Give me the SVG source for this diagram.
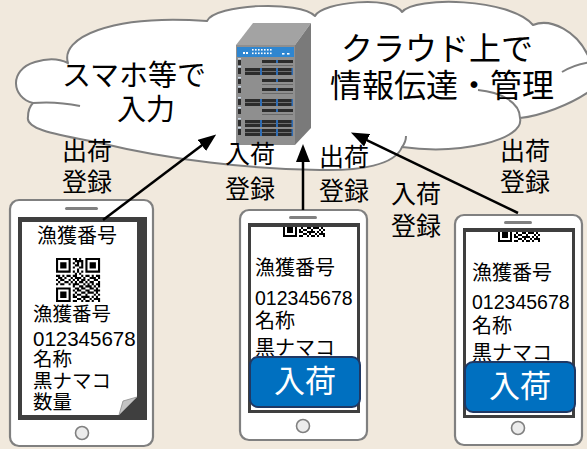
<svg xmlns="http://www.w3.org/2000/svg" width="587" height="449" viewBox="0 0 587 449">
<style>
.jp{font-family:"Noto Sans CJK JP","Noto Sans CJK SC",sans-serif;fill:#000}
.num{font-family:"Liberation Sans","DejaVu Sans",sans-serif;fill:#000}
.lbl{font-size:25px;text-anchor:middle}
.cloud{fill:#fff;stroke:#7f7f7f;stroke-width:2;stroke-linejoin:round}
.edge{fill:none;stroke:#7f7f7f;stroke-width:2}
.body{fill:#fff;stroke:#808080;stroke-width:2.2}
.spk{fill:#808080}
.home{fill:#ececec;stroke:#808080;stroke-width:1.6}
.screen{fill:#3f3f3f}
.paper{fill:#fff}
.btn{fill:#0070c0;stroke:#1f3864;stroke-width:2}
.btxt{font-size:31px;fill:#fff;text-anchor:middle}
.arrow{fill:none;stroke:#000;stroke-width:2.5;marker-end:url(#ah)}
.slot{fill:#2c2c2c}
.blue{fill:#2f6db5}
.port{fill:#c8d6e5}
</style>
<defs>
  <marker id="ah" markerUnits="userSpaceOnUse" markerWidth="18" markerHeight="14" viewBox="0 0 18 14" refX="1" refY="7" orient="auto">
    <path d="M0,0L18,7L0,14z" fill="#000"/>
  </marker>
  <!-- QR code, 21x21 modules -->
  <g id="qr">
    <path fill="#000" fill-rule="evenodd" d="M0 0h7v7h-7zM1 1v5h5v-5zM2 2h3v3h-3z M14 0h7v7h-7zM15 1v5h5v-5zM16 2h3v3h-3z M0 14h7v7h-7zM1 15v5h5v-5zM2 16h3v3h-3z"/>
    <path fill="#000" d="M8 0h2v1h-2zM11 0h1v1h-1zM9 1h4v1h-4zM8 2h1v1h-1zM10 2h1v1h-1zM12 2h1v1h-1zM9 3h2v1h-2zM12 3h1v1h-1zM8 4h1v1h-1zM11 4h2v1h-2zM10 5h1v1h-1zM8 6h1v1h-1zM10 6h1v1h-1zM12 6h1v1h-1zM9 7h1v1h-1zM11 7h1v1h-1zM0 8h2v1h-2zM3 8h1v1h-1zM5 8h2v1h-2zM8 8h2v1h-2zM12 8h1v1h-1zM14 8h2v1h-2zM17 8h1v1h-1zM19 8h2v1h-2zM1 9h2v1h-2zM4 9h1v1h-1zM7 9h1v1h-1zM9 9h3v1h-3zM13 9h1v1h-1zM16 9h3v1h-3zM20 9h1v1h-1zM0 10h1v1h-1zM2 10h2v1h-2zM6 10h1v1h-1zM8 10h1v1h-1zM10 10h1v1h-1zM12 10h2v1h-2zM15 10h1v1h-1zM18 10h2v1h-2zM1 11h1v1h-1zM4 11h2v1h-2zM7 11h1v1h-1zM9 11h1v1h-1zM11 11h2v1h-2zM14 11h1v1h-1zM16 11h2v1h-2zM20 11h1v1h-1zM0 12h1v1h-1zM2 12h2v1h-2zM6 12h1v1h-1zM8 12h3v1h-3zM13 12h1v1h-1zM15 12h1v1h-1zM17 12h1v1h-1zM19 12h2v1h-2zM8 13h1v1h-1zM11 13h2v1h-2zM14 13h3v1h-3zM18 13h1v1h-1zM20 13h1v1h-1zM9 14h2v1h-2zM12 14h2v1h-2zM16 14h2v1h-2zM19 14h1v1h-1zM8 15h1v1h-1zM10 15h2v1h-2zM14 15h2v1h-2zM18 15h3v1h-3zM9 16h1v1h-1zM12 16h2v1h-2zM15 16h3v1h-3zM19 16h1v1h-1zM8 17h1v1h-1zM10 17h2v1h-2zM14 17h1v1h-1zM18 17h1v1h-1zM20 17h1v1h-1zM8 18h2v1h-2zM12 18h4v1h-4zM17 18h1v1h-1zM19 18h1v1h-1zM10 19h2v1h-2zM13 19h1v1h-1zM16 19h1v1h-1zM18 19h3v1h-3zM8 20h2v1h-2zM12 20h1v1h-1zM14 20h2v1h-2zM17 20h1v1h-1zM20 20h1v1h-1z"/>
  </g>
  <!-- server rack rows -->
  <g id="rowFull">
    <rect x="238" y="0" width="3" height="6" class="slot"/>
    <rect x="238" y="-2" width="3" height="1.5" class="port"/>
    <rect x="245" y="0" width="48" height="7" class="slot"/>
    <rect x="245" y="3" width="48" height="1" fill="#6f6f6f"/>
    <rect x="260" y="0" width="2" height="7" class="blue"/>
    <rect x="276" y="0" width="2" height="7" class="blue"/>
    <rect x="291.5" y="0" width="1.5" height="7" class="blue"/>
  </g>
  <g id="rowHalf">
    <rect x="238" y="0" width="3" height="5" class="slot"/>
    <rect x="238" y="-2" width="3" height="1.5" class="port"/>
    <rect x="262" y="0" width="31" height="3" class="slot"/>
    <rect x="276" y="0" width="2" height="3" class="blue"/>
    <rect x="262" y="5" width="31" height="1" fill="#6a6a6a"/>
  </g>
  <clipPath id="scr">
    <rect x="251" y="227" width="106" height="183"/>
  </clipPath>
</defs>

<rect width="587" height="449" fill="#f1e9dd"/>

<!-- cloud -->
<g id="cloud">
  <path class="cloud" d="M68,63 C60,38 110,14 207,21 C215,4 300,0 315,16 C322,2 392,-5 402,12 C415,-4 510,-2 533,25 C550,18 578,30 590,60 L600,60 L600,92 L590,91 C570,105 540,116 520,118 C525,140 460,155 402,147 C395,165 360,171 320,170 C250,169 170,160 100,143 C60,135 25,130 28,117 C28,110 30,106 33,103 C12,98 8,70 35,62 C48,58 60,59 68,63 Z"/>
  <path class="edge" d="M33,103 Q56,101 80,106 M402,147 Q406,142 406,136 M478,90 C500,92 520,102 520,118 M562,72 Q575,64 592,62"/>
  <text class="jp" font-size="29" x="134" y="86" text-anchor="middle">スマホ等で</text>
  <text class="jp" font-size="29" x="146" y="120" text-anchor="middle">入力</text>
  <text class="jp" font-size="32" x="437" y="60" text-anchor="middle">クラウド上で</text>
  <text class="jp" font-size="32" x="442" y="97" text-anchor="middle">情報伝達・管理</text>
</g>

<!-- server -->
<g id="server">
  <polygon points="236,45 253,23 311,23 295,45" fill="#a3a3a3"/>
  <polygon points="295,45 311,23 311,128 295,145" fill="#7a7a7a"/>
  <rect x="236" y="45" width="59" height="100" fill="#8f8f8f"/>
  <rect x="237" y="47" width="57" height="10" fill="#2f86d0"/>
  <g fill="#fff">
    <rect x="243" y="52" width="2" height="2"/><rect x="246" y="52" width="2" height="2"/>
    <rect x="252" y="49" width="1.6" height="1.6"/><rect x="255" y="49" width="1.6" height="1.6"/><rect x="258" y="49" width="1.6" height="1.6"/><rect x="261" y="49" width="1.6" height="1.6"/><rect x="264" y="49" width="1.6" height="1.6"/><rect x="267" y="49" width="1.6" height="1.6"/><rect x="270" y="49" width="1.6" height="1.6"/>
    <rect x="252" y="52.5" width="1.6" height="1.6"/><rect x="255" y="52.5" width="1.6" height="1.6"/><rect x="258" y="52.5" width="1.6" height="1.6"/><rect x="261" y="52.5" width="1.6" height="1.6"/><rect x="264" y="52.5" width="1.6" height="1.6"/><rect x="267" y="52.5" width="1.6" height="1.6"/><rect x="270" y="52.5" width="1.6" height="1.6"/>
    <rect x="282" y="53" width="2.5" height="1.6"/><rect x="287" y="53" width="2.5" height="1.6"/>
  </g>
  <use href="#rowHalf" y="60"/>
  <use href="#rowFull" y="68"/>
  <use href="#rowHalf" y="79"/>
  <use href="#rowHalf" y="88"/>
  <use href="#rowFull" y="99"/>
  <use href="#rowHalf" y="109"/>
  <use href="#rowFull" y="120"/>
  <use href="#rowFull" y="129"/>
</g>

<!-- labels -->
<g id="labels" class="jp lbl">
  <text x="87" y="160">出荷</text><text x="87" y="191">登録</text>
  <text x="250" y="163">入荷</text><text x="250" y="198">登録</text>
  <text x="344" y="166">出荷</text><text x="344" y="200">登録</text>
  <text x="416" y="203">入荷</text><text x="416" y="235">登録</text>
  <text x="525" y="160">出荷</text><text x="525" y="191">登録</text>
</g>

<!-- phone for shipping registration -->
<g id="phone-ship">
  <rect class="body" x="10" y="200" width="143" height="246" rx="9"/>
  <rect class="spk" x="65" y="207" width="33" height="3" rx="1.5"/>
  <rect class="screen" x="18" y="217" width="129" height="203"/>
  <path class="paper" d="M22,222 H137 V397 L119,415 H22 Z"/>
  <path d="M119,415 L123,401 L137,397 Z" fill="#c4c4c4" stroke="#8a8a8a" stroke-width="0.8"/>
  <text class="jp" font-size="20" x="77" y="243" text-anchor="middle">漁獲番号</text>
  <use href="#qr" transform="translate(56,258) scale(2.1)"/>
  <text class="jp" font-size="19.5" x="33" y="321">漁獲番号</text>
  <text class="num" font-size="20.5" x="33" y="346">012345678</text>
  <text class="jp" font-size="19.5" x="33" y="366">名称</text>
  <text class="jp" font-size="19.5" x="33" y="388">黒ナマコ</text>
  <text class="jp" font-size="19.5" x="33" y="409">数量</text>
  <circle class="home" cx="82" cy="433" r="6.5"/>
</g>

<!-- phone for arrival registration (centre) -->
<g id="phone-arrive-1">
  <rect class="body" x="240" y="210" width="127" height="230" rx="9"/>
  <rect class="spk" x="289" y="216" width="28" height="3" rx="1.5"/>
  <rect class="screen" x="248" y="223" width="112" height="190"/>
  <rect class="paper" x="251" y="227" width="106" height="183"/>
  <g clip-path="url(#scr)">
    <use href="#qr" transform="translate(283,195) scale(2)"/>
    <text class="jp" font-size="20" x="255" y="275">漁獲番号</text>
    <text class="num" font-size="19.5" x="255" y="305">012345678</text>
    <text class="jp" font-size="20" x="255" y="328">名称</text>
    <text class="jp" font-size="20" x="255" y="355">黒ナマコ</text>
  </g>
  <rect class="btn" x="250" y="357" width="110" height="50" rx="8"/>
  <text class="jp btxt" x="305" y="392">入荷</text>
  <circle class="home" cx="303" cy="426" r="6.5"/>
</g>

<!-- phone for arrival registration (right) -->
<g id="phone-arrive-2" transform="translate(215,5)">
  <rect class="body" x="240" y="210" width="127" height="230" rx="9"/>
  <rect class="spk" x="289" y="216" width="28" height="3" rx="1.5"/>
  <rect class="screen" x="248" y="223" width="112" height="190"/>
  <rect class="paper" x="251" y="227" width="106" height="183"/>
  <g clip-path="url(#scr)">
    <use href="#qr" transform="translate(283,195) scale(2)"/>
    <text class="jp" font-size="20" x="257" y="275">漁獲番号</text>
    <text class="num" font-size="19.5" x="257" y="304">012345678</text>
    <text class="jp" font-size="20" x="257" y="328">名称</text>
    <text class="jp" font-size="20" x="257" y="355">黒ナマコ</text>
  </g>
  <rect class="btn" x="250" y="357" width="110" height="50" rx="8"/>
  <text class="jp btxt" x="305" y="392">入荷</text>
  <circle class="home" cx="303" cy="423" r="6.5"/>
</g>

<!-- connectors -->
<g id="connectors">
  <path class="arrow" d="M103,220 L202.6,144.8"/>
  <path class="arrow" d="M303,210 L303,161"/>
  <path class="arrow" d="M518,213 L366.2,139.8"/>
</g>
</svg>
